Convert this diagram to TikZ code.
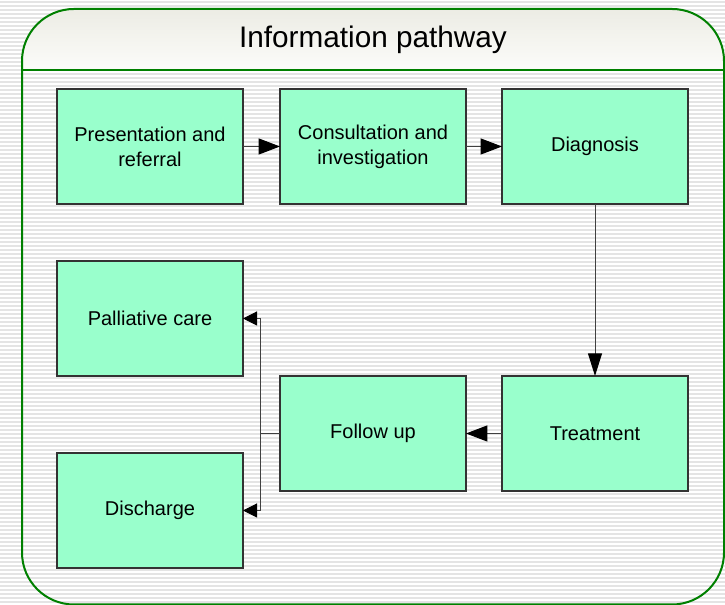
\documentclass[tikz,border=0pt]{standalone}
\usepackage{fontspec}
\setmainfont{Liberation Sans}
\usetikzlibrary{arrows.meta}
\definecolor{boxgreen}{HTML}{99FFCC}
\definecolor{frame}{HTML}{008000}
\definecolor{stripe}{HTML}{E4E4E4}
\definecolor{linegray}{HTML}{404040}
\definecolor{titletop}{HTML}{ECECE4}
\definecolor{titlebot}{HTML}{FCFCFA}
\tikzset{
  stepbox/.style={draw=black!80, line width=0.8pt, fill=boxgreen,
    minimum width=139.5pt, minimum height=86.25pt, inner sep=0pt, outer sep=0pt,
    align=center, font=\fontsize{15}{18.75}\selectfont},
  conn/.style={draw=linegray, line width=0.75pt},
  bigtip/.style={-{Triangle[length=16pt,width=12pt,color=black,fill=black]}},
  downtip/.style={-{Triangle[length=17pt,width=10.5pt,color=black,fill=black]}},
  smalltip/.style={-{Triangle[length=10.5pt,width=10.5pt,color=black,fill=black]}},
}
\begin{document}
\begin{tikzpicture}[x=0.75pt,y=0.75pt]
\useasboundingbox (0,0) rectangle (725,605);
\clip (0,0) rectangle (725,605);
% striped background
\fill[white] (0,0) rectangle (725,605);
\foreach \k in {0,...,151}{
  \fill[stripe] (0,{605-4*\k-1}) rectangle (725,{605-4*\k-3});
}
% container
\begin{scope}
  \clip[rounded corners=39pt] (22,0.5) rectangle (724,596);
  \shade[top color=titletop, bottom color=titlebot] (22,535) rectangle (724,596);
\end{scope}
\draw[frame, line width=1.5pt, rounded corners=39pt] (22,0.5) rectangle (724,596);
\draw[frame, line width=1.5pt] (22,535) -- (724,535);
\node (title) at (373,565) {\fontsize{22.3}{26}\selectfont Information pathway};
% boxes
\node[stepbox] (pr) at (150,458.5) {Presentation and\\referral};
\node[stepbox] (ci) at (373,458.5) {Consultation and\\investigation};
\node[stepbox] (dg) at (595,458.5) {Diagnosis};
\node[stepbox] (pc) at (150,286.5) {Palliative care};
\node[stepbox] (fu) at (373,171.5) {Follow up};
\node[stepbox] (tr) at (595,171.5) {Treatment};
\node[stepbox] (ds) at (150,94.5) {Discharge};
\coordinate (br) at (260,171.5);
% connectors
\draw[conn,bigtip] (pr) -- (ci);
\draw[conn,bigtip] (ci) -- (dg);
\draw[conn,downtip] (dg) -- (tr);
\draw[conn,bigtip] (tr) -- (fu);
\draw[conn] (fu.west) -- (br);
\draw[conn,smalltip] (br) |- (pc.east);
\draw[conn,smalltip] (br) |- (ds.east);
\end{tikzpicture}
\end{document}
